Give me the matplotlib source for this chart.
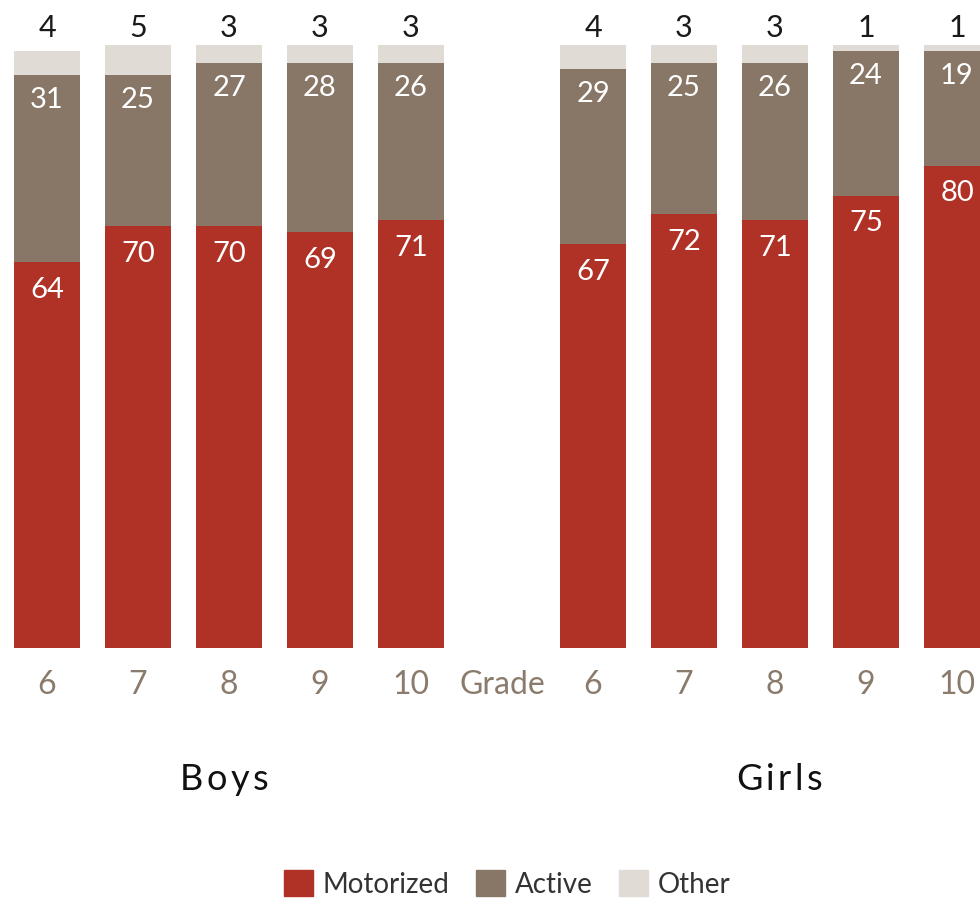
import matplotlib
matplotlib.use("Agg")
import matplotlib.pyplot as plt
from matplotlib.patches import Patch

plt.rcParams['font.family'] = ['Lato', 'DejaVu Sans']

grades = ["6", "7", "8", "9", "10"]
boys_motorized = [64, 70, 70, 69, 71]
boys_active = [31, 25, 27, 28, 26]
boys_other = [4, 5, 3, 3, 3]
girls_motorized = [67, 72, 71, 75, 80]
girls_active = [29, 25, 26, 24, 19]
girls_other = [4, 3, 3, 1, 1]
group_titles = ["Boys", "Girls"]
axis_label = "Grade"
legend_labels = ["Motorized", "Active", "Other"]

c_mot = "#b03226"
c_act = "#887767"
c_oth = "#e0dbd5"
tick_col = "#8a7b6c"

fig = plt.figure(figsize=(9.8, 9), dpi=100)
ax = fig.add_axes([0, 0.28, 1, 0.67])

n = len(grades)
pos_boys = list(range(n))
pos_girls = [n + 1 + i for i in range(n)]
width = 0.725

for pos, mot, act, oth in [(pos_boys, boys_motorized, boys_active, boys_other),
                           (pos_girls, girls_motorized, girls_active, girls_other)]:
    ax.bar(pos, mot, width=width, color=c_mot)
    ax.bar(pos, act, width=width, bottom=mot, color=c_act)
    bott = [m + a for m, a in zip(mot, act)]
    ax.bar(pos, oth, width=width, bottom=bott, color=c_oth)
    for x, m, a, o in zip(pos, mot, act, oth):
        ax.text(x, m - 4.6, str(m), ha="center", va="center", color="white", fontsize=21)
        ax.text(x, m + a - 4.2, str(a), ha="center", va="center", color="white", fontsize=21)
        ax.text(x, 102.8, str(o), ha="center", va="center", color="#1a1a1a", fontsize=22, clip_on=False)

ax.set_xlim(-47 / 91, (980 - 47) / 91)
ax.set_ylim(0, 100)
ax.axis("off")

for x, g in zip(pos_boys + pos_girls, grades + grades):
    ax.text(x, -6.2, g, ha="center", va="center", color=tick_col, fontsize=23, clip_on=False)
ax.text(n, -6.2, axis_label, ha="center", va="center", color=tick_col, fontsize=23, clip_on=False)

# letter-spaced group titles
renderer = fig.canvas.get_renderer()


def spaced_text(cx_px, cy_px, s, size, spacing_px):
    objs, widths = [], []
    for ch in s:
        t = fig.text(0, 1 - cy_px / 900, ch, ha="left", va="center", fontsize=size, color="#111111")
        w = t.get_window_extent(renderer=renderer).width
        objs.append(t)
        widths.append(w)
    total = sum(widths) + spacing_px * (len(s) - 1)
    x = cx_px - total / 2
    for t, w in zip(objs, widths):
        t.set_x(x / 980)
        x += w + spacing_px


spaced_text(224, 780, group_titles[0], 26, 3.5)
spaced_text(779, 780, group_titles[1], 26, 3.5)

handles = [Patch(color=c) for c in (c_mot, c_act, c_oth)]
fig.legend(handles, legend_labels, loc="center", bbox_to_anchor=(507 / 980, 1 - 884 / 900),
           ncol=3, frameon=False, fontsize=20, handlelength=1.05, handleheight=1.05,
           handletextpad=0.35, columnspacing=0.95, labelcolor="#333333")

fig.savefig("out.png", dpi=100)
